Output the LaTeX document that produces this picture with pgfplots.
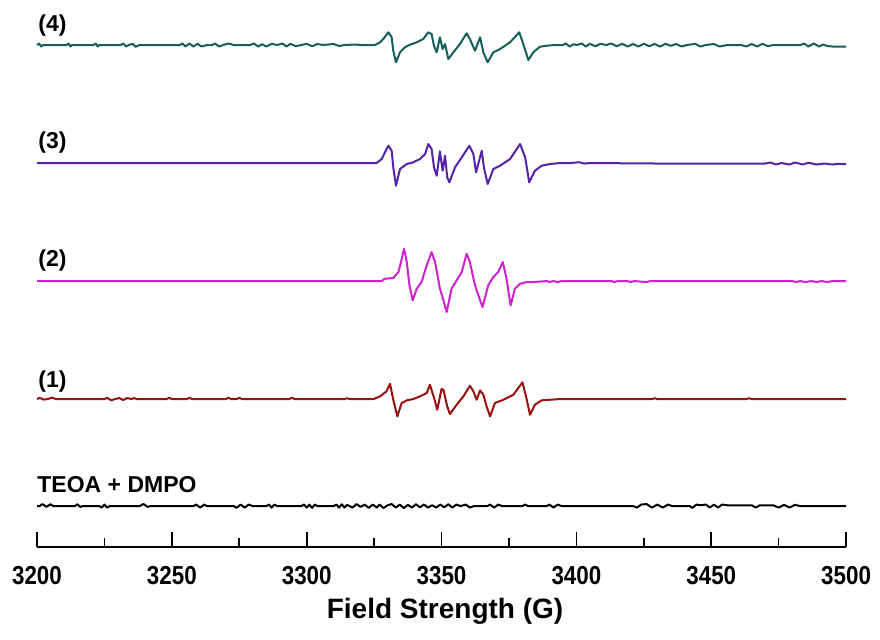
\documentclass[border=0pt]{standalone}
\usepackage{fontspec}
\setmainfont{Liberation Sans}
\newfontfamily\tickfont[FakeStretch=0.86]{Liberation Sans}
\usepackage{pgfplots}
\pgfplotsset{compat=1.18}
\definecolor{cfour}{RGB}{20,95,90}
\definecolor{cthree}{RGB}{85,35,170}
\definecolor{ctwo}{RGB}{205,35,205}
\definecolor{cone}{RGB}{155,15,15}
\newcommand\lab{\fontsize{11.5}{13}\selectfont\bfseries}
\begin{document}
\begin{tikzpicture}
\begin{axis}[
  scale only axis, width=404.5pt, height=273.5pt,
  xmin=3200, xmax=3500, ymin=-547, ymax=0,
  axis x line=bottom, axis y line=none,
  x axis line style={-, line width=1.2pt},
  xtick={3200,3250,...,3500}, minor x tick num=1,
  xtick align=inside,
  major tick length=7.5pt, minor tick length=4.5pt,
  every tick/.style={black, line width=0.8pt},
  xticklabel style={font=\tickfont\fontsize{13}{15}\selectfont\bfseries, yshift=-6pt},
  /pgf/number format/assume math mode=true,
  /pgf/number format/set thousands separator={},
  clip=false,
  every axis plot/.append style={line width=1pt, line join=round},
]
% trace (4)
\addplot[cfour] table[y expr=\thisrowno{1}-45] {
3200 0
3200.8 1.5
3201.5 -1.5
3202.3 0
3211 0
3211.7 1.5
3212.4 -1.5
3213 0
3221 0
3221.8 1.5
3222.5 -1.5
3223.2 0
3231 0
3232 1.5
3233 -1.5
3234 0
3235.5 1.2
3236.5 -1.8
3238 0
3253 0
3254 1.5
3255 -1.5
3256.5 1.5
3258 -1.5
3259.5 1.2
3261 -1.5
3263 0
3265 0
3266 1.5
3267.5 -1.5
3269 0
3271 1.5
3273 0
3279 0
3280.5 1.5
3282 -1.5
3283.5 0.8
3285 -1.5
3287 1.2
3289 0
3291 1.5
3292.5 -1.5
3294 1.2
3296 -1.2
3298 0
3300 1.2
3302 -1.2
3304 1
3306 0
3310 1
3312 -1
3314 0
3318 0.5
3320 0
3325.3 0
3327.2 2.7
3328.4 6
3330.3 12.7
3331.5 7.7
3332.1 -5.7
3333.1 -17.3
3334.6 -7.3
3336.4 -2.3
3338.3 0.3
3340.8 2.7
3343.2 6
3345.1 12.7
3346.3 11
3347.2 -0.7
3348.2 -7.3
3349.4 7.7
3350.4 -4
3351.3 1
3352.5 -14
3354.4 -7.3
3356.8 1
3359.3 11.7
3360.5 6
3362.4 -5.7
3364.3 7.7
3365.5 -7.3
3367.1 -17.3
3369.2 -7.3
3371.7 -4
3375.4 2.7
3378.8 12.7
3380.3 1
3382.2 -15
3384.0 -7.3
3386.5 -1.7
3389.0 -0.7
3392 0
3395 0
3396 1.5
3397.5 -1.5
3399 0.8
3400 0
3402 1.5
3403.5 -1.5
3405 1.2
3407 -1.2
3409 1.2
3411 0
3413 1.5
3415 -1.2
3417 1.2
3419 -1.5
3421 1
3423 -1.5
3425 1.2
3427 -1.2
3429 1
3431 -1.5
3433 1.2
3435 -0.8
3437 1
3439 -1.5
3441 0
3444 1.2
3446 -1.5
3448 0
3451 1
3453 -1.5
3456 0
3461 0
3463 -1.5
3465 1
3467 -1.5
3469 1.2
3471 -1.2
3473 0
3483 0
3484.5 1.5
3486 -1.5
3488 1.5
3490 -1.5
3491.5 0.5
3493 -1
3495 -1.5
3500 -1.5
};
% trace (3)
\addplot[cthree] table[y expr=\thisrowno{1}-163] {
3200 0
3260 0
3300 0
3322 0
3325.9 0
3327.8 4
3328.7 9
3330.3 17.3
3331.5 12.3
3332.1 -4.3
3333.1 -22.7
3334.6 -6
3337.1 -1
3339.5 0.7
3342.0 4
3343.9 9
3345.1 19
3346.3 14
3347.2 -4.3
3348.2 -12.7
3349.4 11.7
3350.4 -7.7
3351.3 7.3
3352.1 -14.3
3352.9 -19.3
3355.0 -4.3
3357.5 5.7
3360.3 17.3
3361.8 9
3362.8 -9.3
3364.9 12.3
3365.7 -4.3
3367.1 -21
3369.2 -6
3371.7 -2.7
3375.4 4
3379.1 19
3381.0 5.7
3382.5 -19.3
3384.6 -7.7
3387.1 -2.7
3390.2 -1
3393.9 0
3398 0
3401 0.8
3403 -0.5
3405 0
3430 -0.5
3470 -0.5
3472 0.5
3474 -1.5
3476 0
3479 -1.5
3481 0.5
3484 -1.5
3486 0.3
3489 -1.5
3492 -0.5
3495 -1.5
3497 -0.8
3500 -1.2
};
% trace (2)
\addplot[ctwo] table[y expr=\thisrowno{1}-281] {
3200 0
3300 0
3327.8 0
3329.0 2.3
3332.1 3
3334.0 9
3334.8 17.3
3336.1 32.3
3337.1 19
3338.1 -4.3
3339.3 -19.3
3340.8 -7.7
3342.6 -1
3344.5 15.7
3346.3 29
3347.6 19
3349.4 -7.7
3350.7 -19.3
3351.9 -31
3353.7 -7.7
3355.6 0.7
3357.5 9
3359.3 27.3
3360.5 19
3362.4 -4.3
3364.3 -19.3
3365.2 -26
3367.3 -4.3
3369.2 4
3371.0 9
3372.7 19
3374.1 2.3
3375.6 -24.3
3377.2 -7.7
3379.1 -2.7
3381.6 -1
3384.0 -1
3387.7 -0.3
3389 0
3390 -1
3391.5 0
3393 -1
3394.5 0
3413 0
3414 -1
3415.5 0
3419 0
3420 -1
3421.5 0
3426 -1
3427.5 0
3480 0
3481.5 -1
3483 0
3485 -1
3487 0
3489 -1
3491 0
3493 -1
3495 0
3500 0
};
% trace (1)
\addplot[cone] table[y expr=\thisrowno{1}-399] {
3200 0
3201 1.2
3202.5 -0.5
3204 0
3205.5 1.5
3207 0
3225 0
3226 1.2
3227.5 -1.2
3229 0
3230.5 1
3232 -1
3233.5 1
3235 0
3236 1
3237 0
3248 0
3249 1.2
3250 0
3255.5 0
3256.5 1.2
3257.5 0
3270 0
3271 1.2
3272 0
3274 0
3275 1.2
3276 0
3293.5 0
3294.5 1.2
3295.5 0
3314 0
3315 0.8
3316 0
3324.7 0
3327.2 2.7
3329.6 7.7
3330.9 15.3
3332.1 -0.7
3333.6 -17.3
3335.2 -4
3337.1 -1.3
3339.5 0
3342.0 2.7
3344.5 6
3345.7 14.3
3347.6 -2.3
3348.4 -10.7
3350.0 10
3350.7 9.3
3352.1 -7.3
3353.1 -15
3355.6 -5.7
3358.1 2.7
3360.5 13.3
3361.8 7.7
3363.0 -0.7
3364.3 8.7
3365.5 4.3
3366.7 -7.3
3368.0 -17.3
3369.8 -4
3372.9 -0.7
3376.6 4.3
3380.0 16.7
3381.6 -0.7
3382.8 -15.7
3384.6 -5.7
3387.1 -1.3
3390.2 -0.7
3393.9 0
3428 0
3429 0.8
3430 0
3463 0
3464 0.8
3465 0
3500 0
};
% TEOA + DMPO
\addplot[black] table[y expr=\thisrowno{1}-506] {
3200 0
3201 0
3202 2
3203.5 -0.8
3205 1.8
3206 0
3214 0
3215 1.8
3216 -0.8
3217 0
3223 0
3224 -1.5
3225 1.5
3226 -1.5
3227 0
3238 0
3239.5 2
3241 -0.8
3242 0
3258 0
3259 1.5
3260.5 -1.5
3262 1.5
3263 0
3273 0
3274 -1.8
3275.5 1.5
3277 -1.5
3278.5 1.5
3280 0
3285 0
3286 1.5
3287 -1.5
3288 1.5
3289 0
3298 0
3299 1.5
3300 -1.5
3301 1.5
3302 -1.8
3303 1.5
3304 0
3310 0
3311 1.5
3312 -1.5
3313 1.8
3314 -1.5
3315 1.2
3317 -1.5
3318.5 2
3320 -0.8
3321.5 1.5
3323 -1.8
3324.5 1.5
3326 -1.5
3327 1.5
3328.5 -2
3330 0.8
3331.5 2
3333 -1.5
3334.5 1.5
3336 -2
3337.5 1.2
3339 -1.5
3340.5 1.8
3342 -1.2
3343.5 1.5
3345 -1.5
3346.5 0.8
3348 -1.5
3349.5 1.5
3351 -1.2
3352.5 1.8
3354 -1.5
3355.5 1.5
3357 0
3359 1.5
3360.5 -1.5
3362 0
3367 0
3368 1.5
3369.5 -1.5
3371 1.5
3372.5 0
3380 0
3381 1.5
3382 0
3389 0
3390 1.5
3391.5 -1.5
3393 1.5
3394.5 0
3421 0
3422.5 -1.5
3424 1.5
3426 2
3428 -1.5
3430 1.5
3432 -1.5
3434 1.5
3435.5 0
3442 0
3443 -1.8
3444.5 1.5
3446 0.8
3448 1.5
3449.5 -1.5
3451 1.5
3452.5 -1.5
3454 1.5
3456 0.8
3458 0.8
3465 0.8
3466.5 -1.5
3468 0.8
3473 0.8
3475 -1.5
3477 1.2
3479 -1.5
3481 1.2
3483 0
3500 0
};
\node[anchor=west, font=\lab, inner sep=0pt] at (axis cs:3200.4,-26) {(4)};
\node[anchor=west, font=\lab, inner sep=0pt] at (axis cs:3200.4,-143) {(3)};
\node[anchor=west, font=\lab, inner sep=0pt] at (axis cs:3200.4,-261) {(2)};
\node[anchor=west, font=\lab, inner sep=0pt] at (axis cs:3200.4,-381) {(1)};
\node[anchor=west, font=\lab, inner sep=0pt] at (axis cs:3200,-485) {TEOA + DMPO};
\node[font=\fontsize{14}{16}\selectfont\bfseries, inner sep=0pt] at (axis cs:3351.3,-611) {Field Strength (G)};
\path (axis cs:3186.28,0) rectangle (axis cs:3512.57,-639);
\end{axis}
\end{tikzpicture}
\end{document}
